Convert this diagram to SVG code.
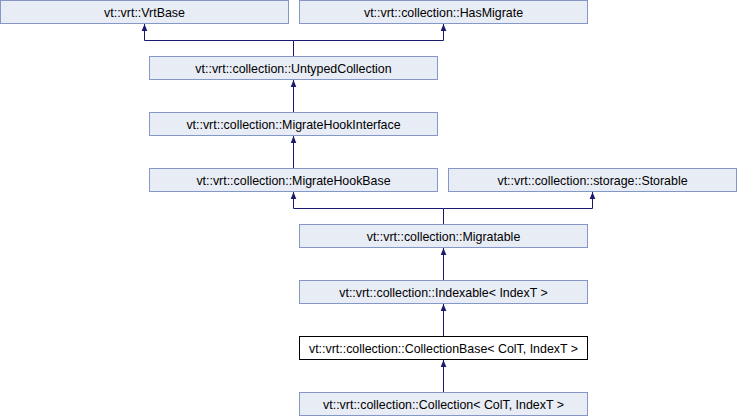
<svg xmlns="http://www.w3.org/2000/svg" width="737" height="416" viewBox="0 0 737 416">
<style>
.n rect{fill:#E8ECF5;stroke:#8497C8;stroke-width:1}
.n.cur rect{fill:#FFFFFF;stroke:#000000}
.n text{font-family:"Liberation Sans",Arial,sans-serif;font-size:12.4px;fill:#000;text-anchor:middle}
.e{fill:none;stroke:#191970;stroke-width:1}
</style>
<defs>
<marker id="ah" viewBox="0 0 10 10" refX="10" refY="5" markerWidth="7" markerHeight="7" orient="auto" markerUnits="userSpaceOnUse">
<path d="M0,1 L10,5 L0,9 z" fill="#191970"/>
</marker>
</defs>
<g id="connectors">
<path class="e" d="M293.5,56.5 V40.5 H144.5 V24" marker-end="url(#ah)"/>
<path class="e" d="M293.5,40.5 H443.5 V24" marker-end="url(#ah)"/>
<path class="e" d="M293.5,112.5 V80" marker-end="url(#ah)"/>
<path class="e" d="M293.5,168.5 V136" marker-end="url(#ah)"/>
<path class="e" d="M443.5,224.5 V208.5 H293.5 V192" marker-end="url(#ah)"/>
<path class="e" d="M443.5,208.5 H592.5 V192" marker-end="url(#ah)"/>
<path class="e" d="M443.5,280.5 V248" marker-end="url(#ah)"/>
<path class="e" d="M443.5,336.5 V304" marker-end="url(#ah)"/>
<path class="e" d="M443.5,392.5 V360" marker-end="url(#ah)"/>
</g>
<g id="VrtBase" class="n"><rect x="0.5" y="0.5" width="288" height="23"/><text x="144.5" y="16.5">vt::vrt::VrtBase</text></g>
<g id="HasMigrate" class="n"><rect x="299.5" y="0.5" width="288" height="23"/><text x="443.5" y="16.5">vt::vrt::collection::HasMigrate</text></g>
<g id="UntypedCollection" class="n"><rect x="149.5" y="56.5" width="288" height="23"/><text x="293.5" y="72.5">vt::vrt::collection::UntypedCollection</text></g>
<g id="MigrateHookInterface" class="n"><rect x="149.5" y="112.5" width="288" height="23"/><text x="293.5" y="128.5">vt::vrt::collection::MigrateHookInterface</text></g>
<g id="MigrateHookBase" class="n"><rect x="149.5" y="168.5" width="288" height="23"/><text x="293.5" y="184.5">vt::vrt::collection::MigrateHookBase</text></g>
<g id="Storable" class="n"><rect x="448.5" y="168.5" width="288" height="23"/><text x="592.5" y="184.5">vt::vrt::collection::storage::Storable</text></g>
<g id="Migratable" class="n"><rect x="299.5" y="224.5" width="288" height="23"/><text x="443.5" y="240.5">vt::vrt::collection::Migratable</text></g>
<g id="Indexable" class="n"><rect x="299.5" y="280.5" width="288" height="23"/><text x="443.5" y="296.5">vt::vrt::collection::Indexable&lt; IndexT &gt;</text></g>
<g id="CollectionBase" class="n cur"><rect x="299.5" y="336.5" width="288" height="23"/><text x="443.5" y="352.5">vt::vrt::collection::CollectionBase&lt; ColT, IndexT &gt;</text></g>
<g id="Collection" class="n"><rect x="299.5" y="392.5" width="288" height="23"/><text x="443.5" y="408.5">vt::vrt::collection::Collection&lt; ColT, IndexT &gt;</text></g>
</svg>
